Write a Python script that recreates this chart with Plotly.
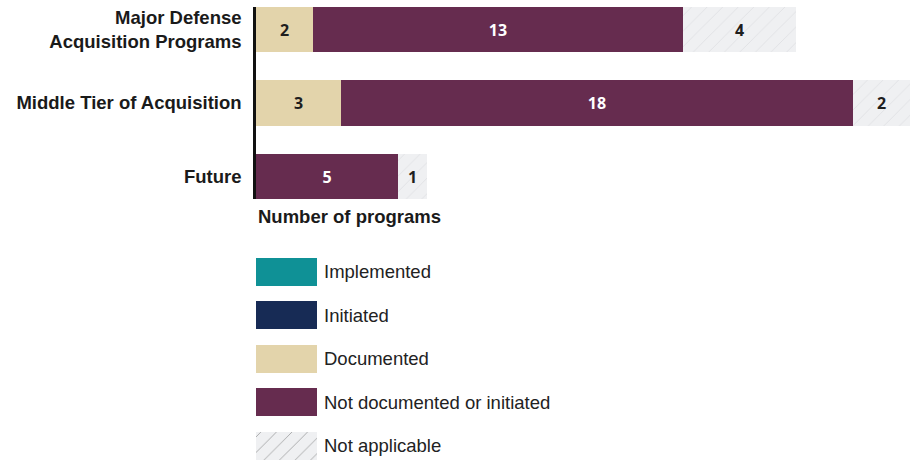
import plotly.graph_objects as go

# ---- data ----
categories = ["Major Defense<br>Acquisition Programs", "Middle Tier of Acquisition", "Future"]
series_names = ["Implemented", "Initiated", "Documented", "Not documented or initiated", "Not applicable"]
implemented = [0, 0, 0]
initiated = [0, 0, 0]
documented = [2, 3, 0]
not_documented = [13, 18, 5]
not_applicable = [4, 2, 1]
x_title = "Number of programs"

colors = {
    "Implemented": "#0f9196",
    "Initiated": "#172b55",
    "Documented": "#e3d4ab",
    "Not documented or initiated": "#662c4f",
    "Not applicable": "#eff0f2",
}
text_colors = {
    "Implemented": "white",
    "Initiated": "white",
    "Documented": "#1e1e1e",
    "Not documented or initiated": "white",
    "Not applicable": "#1e1e1e",
}
values = {
    "Implemented": implemented,
    "Initiated": initiated,
    "Documented": documented,
    "Not documented or initiated": not_documented,
    "Not applicable": not_applicable,
}

# layout geometry
W, H = 910, 460
ML, MR, MT, MB = 256, 0, 7, 0
plot_h = H - MT - MB
plot_w = W - ML - MR
main_bottom_px = 199
main_dom_lo = (H - MB - main_bottom_px) / plot_h

leg_top_px = 250.25
leg_dom_hi = (H - MB - leg_top_px) / plot_h

fig = go.Figure()

hatch = dict(shape="/", fgcolor="#cdced2", bgcolor="#eff0f2", size=11, solidity=0.07)

for name in series_names:
    vals = values[name]
    marker = dict(color=colors[name], line=dict(width=0))
    if name == "Not applicable":
        marker["pattern"] = hatch
    fig.add_trace(go.Bar(
        y=list(range(len(categories))), x=vals, orientation="h", name=name,
        marker=marker, width=0.615,
        text=[str(v) if v else "" for v in vals],
        textposition="inside", insidetextanchor="middle",
        textfont=dict(family="Open Sans", size=16, color=text_colors[name], weight="bold"),
        constraintext="none",
        xaxis="x", yaxis="y", showlegend=False, hoverinfo="skip",
    ))

# legend swatches drawn as bars on a secondary axis
fig.add_trace(go.Bar(
    y=list(range(len(series_names))), x=[1] * len(series_names), orientation="h",
    marker=dict(color=[colors[n] for n in series_names], line=dict(width=0),
                pattern=dict(shape=["", "", "", "", "/"], fgcolor="#cdced2",
                             bgcolor="#eff0f2", size=11, solidity=0.07)),
    width=28 / 43.5, xaxis="x2", yaxis="y2", showlegend=False, hoverinfo="skip",
))

fig.update_layout(
    width=W, height=H,
    margin=dict(l=ML, r=MR, t=MT, b=MB, pad=0),
    paper_bgcolor="white", plot_bgcolor="white",
    barmode="stack", bargap=0,
    font=dict(family="Liberation Sans, Arial", color="#1a1a1a"),
    xaxis=dict(domain=[0, 1], range=[0, 23.0], anchor="y", visible=False, fixedrange=True),
    yaxis=dict(domain=[main_dom_lo, 1], range=[2.31, -0.31], anchor="x",
               tickmode="array", tickvals=list(range(len(categories))), ticktext=categories,
               tickfont=dict(size=18.5, family="Liberation Sans, Arial", color="#1a1a1a", weight="bold"),
               showline=True, linecolor="#111111", linewidth=2.5, ticks="",
               showgrid=False, zeroline=False, ticklabelstandoff=8),
    xaxis2=dict(domain=[0, 61 / plot_w], range=[0, 1], anchor="y2", visible=False),
    yaxis2=dict(domain=[0, leg_dom_hi], range=[4.322, -0.5], anchor="x2", side="right",
                tickmode="array", tickvals=list(range(len(series_names))), ticktext=series_names,
                tickfont=dict(size=18.5, family="Liberation Sans, Arial", color="#222222"),
                showline=False, showgrid=False, zeroline=False, ticks="", ticklabelstandoff=6),
    annotations=[dict(
        text="<b>" + x_title + "</b>", xref="paper", yref="paper",
        x=0, y=(H - MB - 216) / plot_h, xanchor="left", yanchor="middle",
        showarrow=False, font=dict(size=18.5, family="Liberation Sans, Arial", color="#1a1a1a"),
    )],
)

fig.write_html("out.html")
